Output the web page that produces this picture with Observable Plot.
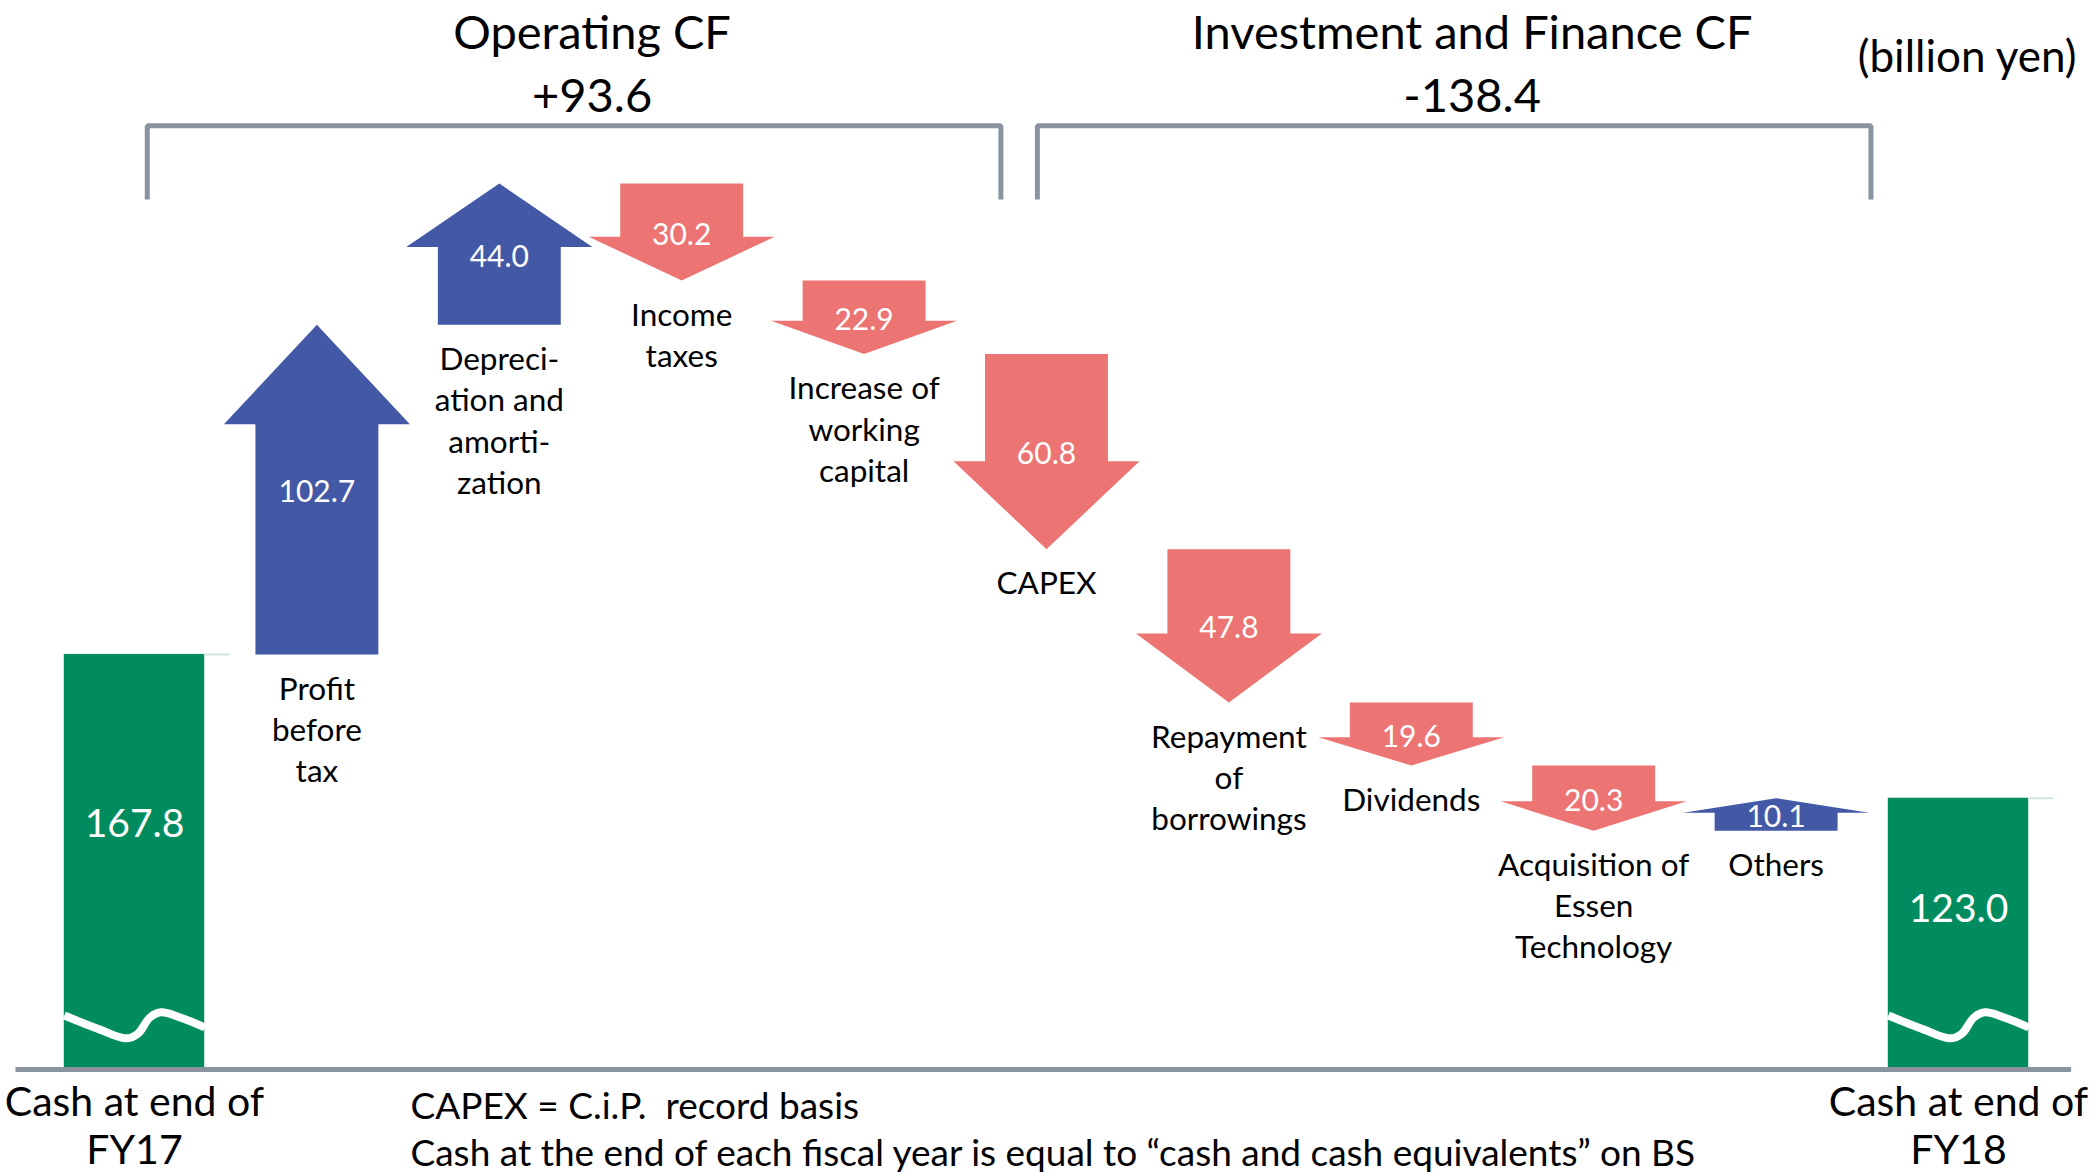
<!DOCTYPE html>
<html>
<head>
<meta charset="utf-8">
<script src="https://cdn.jsdelivr.net/npm/d3@7"></script>
<script src="https://cdn.jsdelivr.net/npm/@observablehq/plot@0.6"></script>
<style>
  html, body { margin: 0; padding: 0; background: #ffffff; }
  #chart svg { display: block; }
</style>
</head>
<body>
<div id="chart"></div>
<script>
// ---------------- data ----------------
const categories = [
  "Cash at end of FY17", "Profit before tax", "Depreciation and amortization",
  "Income taxes", "Increase of working capital", "CAPEX",
  "Repayment of borrowings", "Dividends", "Acquisition of Essen Technology",
  "Others", "Cash at end of FY18"
];
const labelLines = [
  ["Cash at end of", "FY17"], ["Profit", "before", "tax"],
  ["Depreci-", "ation and", "amorti-", "zation"], ["Income", "taxes"],
  ["Increase of", "working", "capital"], ["CAPEX"],
  ["Repayment", "of", "borrowings"], ["Dividends"],
  ["Acquisition of", "Essen", "Technology"], ["Others"], ["Cash at end of", "FY18"]
];
const kinds = ["total", "flow", "flow", "flow", "flow", "flow", "flow", "flow", "flow", "flow", "total"];
const values = [167.8, 102.7, 44.0, -30.2, -22.9, -60.8, -47.8, -19.6, -20.3, 10.1, 123.0];
const groups = ["", "Operating CF", "Operating CF", "Operating CF", "Operating CF",
  "Investment and Finance CF", "Investment and Finance CF", "Investment and Finance CF",
  "Investment and Finance CF", "Investment and Finance CF", ""];
const unitLabel = "(billion yen)";
const notes = [
  "CAPEX = C.i.P.  record basis",
  "Cash at the end of each fiscal year is equal to \u201ccash and cash equivalents\u201d on BS"
];

// ---------------- styles ----------------
const BLUE = "#4359A6", RED = "#EC7574", GREEN = "#008C5F", GRAY = "#8A94A0";
const FONT = "Lato, 'Open Sans', sans-serif";
const yMin = 38.5, yMax = 371.5;       // broken value axis (bars are cut)
const barHalf = 0.385, shaftHalf = 0.337, headHalf = 0.51;
const bracketPad = [[0.93, 0.75], [0.05, 0.52]];

// ---------------- derived ----------------
let running = 0;
const rows = categories.map((name, i) => {
  const v = values[i];
  const label = labelLines[i].join("\n");
  if (kinds[i] === "total") {
    running = v;
    return {i, name, kind: "total", v, start: yMin, end: v, label};
  }
  const start = running;
  running += v;
  return {i, name, kind: "flow", v, start, end: running, label};
});
const totals = rows.filter(d => d.kind === "total");
const flows = rows.filter(d => d.kind === "flow");

function arrow(r) {
  const dir = Math.sign(r.v);
  const head = Math.min(0.45 * Math.abs(r.v), 31);
  const base = r.end - dir * head;
  return [
    [r.i - shaftHalf, r.start], [r.i - shaftHalf, base], [r.i - headHalf, base],
    [r.i, r.end], [r.i + headHalf, base], [r.i + shaftHalf, base], [r.i + shaftHalf, r.start]
  ].map(([x, y]) => ({id: r.i, x, y}));
}
const upVerts = flows.filter(d => d.v > 0).flatMap(arrow);
const downVerts = flows.filter(d => d.v < 0).flatMap(arrow);

// wavy break symbol across the truncated bars
const waveShape = [[-1, 16.8], [-0.5, 12.5], [-0.12, 9.7], [0.05, 11.2], [0.22, 16.2], [0.38, 17.8], [0.65, 16.2], [1.0, 13.1]];
const waveVerts = totals.flatMap(t => waveShape.map(([fx, dy]) => ({id: t.i, x: t.i + fx * barHalf, y: yMin + dy})));

// group brackets
const peak = d3.max(flows, d => Math.max(d.start, d.end));
const groupNames = [...new Set(groups.filter(g => g))];
const groupInfo = groupNames.map((g, k) => {
  const idx = groups.map((x, i) => x === g ? i : -1).filter(i => i >= 0);
  const total = d3.sum(idx, i => values[i]);
  const left = idx[0] - bracketPad[k][0];
  const right = idx[idx.length - 1] + bracketPad[k][1];
  return {g, left, right, mid: (left + right) / 2,
    text: g + "\n" + (total > 0 ? "+" : "") + total.toFixed(1)};
});
const bracketTop = peak + 18, bracketFoot = peak - 5;
const bracketVerts = groupInfo.flatMap(b => [
  {id: b.g, x: b.left, y: bracketFoot}, {id: b.g, x: b.left, y: bracketTop},
  {id: b.g, x: b.right, y: bracketTop}, {id: b.g, x: b.right, y: bracketFoot}
]);

const chart = Plot.plot({
  width: 2096,
  height: 1176,
  marginLeft: 134,
  marginRight: 138,
  marginTop: 0,
  marginBottom: 107,
  style: {fontFamily: FONT, background: "#ffffff", color: "#000"},
  x: {domain: [0, categories.length - 1], axis: null},
  y: {domain: [yMin, yMax], axis: null},
  marks: [
    // total bars
    Plot.rect(totals, {x1: d => d.i - barHalf, x2: d => d.i + barHalf, y1: "start", y2: "end", fill: GREEN}),
    Plot.ruleY(totals, {x1: d => d.i + barHalf, x2: d => d.i + barHalf + 0.14, y: "end", stroke: "#cfe8de", strokeWidth: 2}),
    Plot.line(waveVerts, {x: "x", y: "y", z: "id", stroke: "#ffffff", strokeWidth: 8, curve: "catmull-rom", strokeLinecap: "butt"}),
    // arrows
    Plot.line(upVerts, {x: "x", y: "y", z: "id", fill: BLUE, stroke: "none", curve: "linear"}),
    Plot.line(downVerts, {x: "x", y: "y", z: "id", fill: RED, stroke: "none", curve: "linear"}),
    // baseline
    Plot.ruleY([yMin], {x1: -0.65, x2: categories.length - 1 + 0.62, stroke: GRAY, strokeWidth: 5}),
    // brackets
    Plot.line(bracketVerts, {x: "x", y: "y", z: "id", stroke: GRAY, strokeWidth: 5, strokeLinejoin: "miter", strokeLinecap: "butt"}),
    // values
    Plot.text(flows, {x: "i", y: d => (d.start + d.end) / 2, text: d => Math.abs(d.v).toFixed(1), fill: "#fff", fontSize: 30, dy: 3}),
    Plot.text(totals, {x: "i", y: d => d.end - 0.41 * (d.end - yMin), text: d => d.v.toFixed(1), fill: "#fff", fontSize: 39}),
    // category labels
    Plot.text(flows, {x: "i", y: d => Math.min(d.start, d.end), text: "label", lineAnchor: "top", dy: 16, fontSize: 31.5, lineHeight: 1.31, fill: "#000"}),
    Plot.text(totals, {x: "i", y: () => yMin, text: "label", lineAnchor: "top", dy: 12, fontSize: 41, lineHeight: 1.17, fill: "#000"}),
    // group headers
    Plot.text(groupInfo, {x: "mid", frameAnchor: "top", text: "text", lineAnchor: "top", dx: 18, dy: 4, fontSize: 47, lineHeight: 1.34, fill: "#000"}),
    Plot.text([unitLabel], {frameAnchor: "top-right", textAnchor: "end", lineAnchor: "middle", dx: 118, dy: 57, fontSize: 44, fill: "#000"}),
    // notes
    Plot.text([notes.join("\n")], {frameAnchor: "bottom-left", textAnchor: "start", lineAnchor: "top", dx: 276, dy: 16, fontSize: 37, lineHeight: 1.27, fill: "#000"})
  ]
});
document.getElementById("chart").appendChild(chart);
</script>
</body>
</html>
